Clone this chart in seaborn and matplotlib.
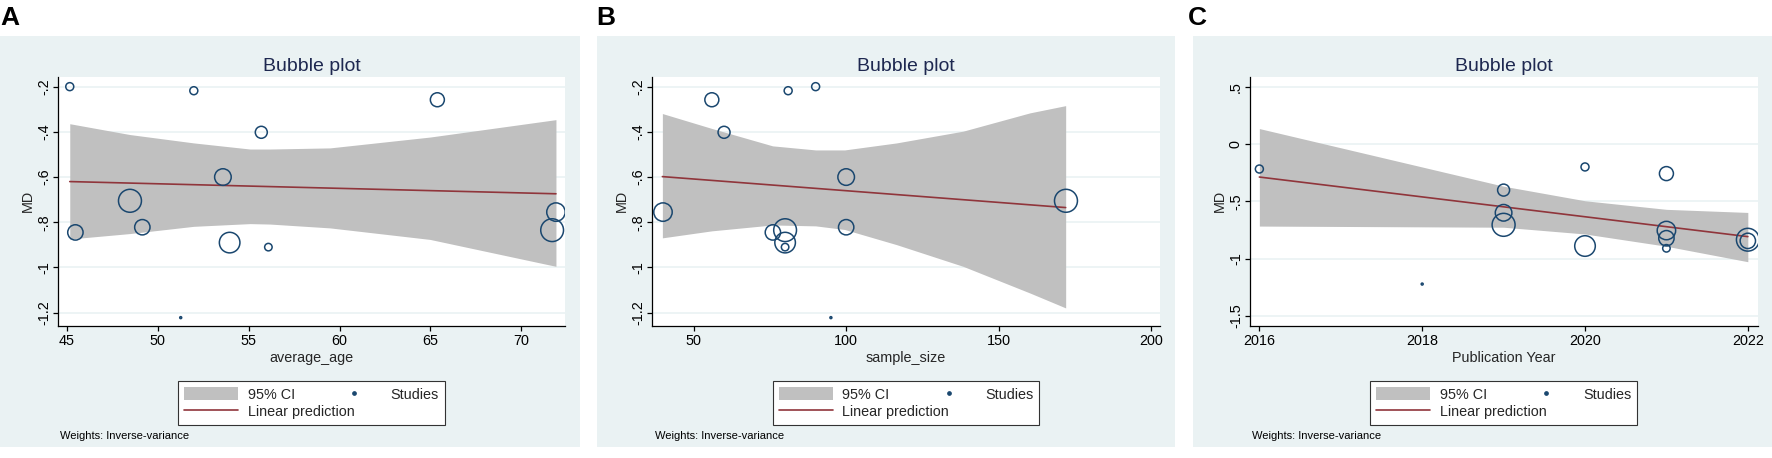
import numpy as np
import pandas as pd
import matplotlib.pyplot as plt
import seaborn as sns
from matplotlib.patches import Rectangle, Patch
from matplotlib.lines import Line2D
from matplotlib.legend_handler import HandlerLine2D

# 1: study level data (13 studies)
md = [-0.200, -0.218, -0.258, -0.402, -0.600, -0.705, -0.755,
      -0.845, -0.835, -0.890, -0.910, -0.822, -1.222]
weight = [16, 16, 49, 36, 69, 132, 85, 59, 130, 106, 14, 59, 1]
average_age = [45.17, 51.99, 65.38, 55.70, 53.59, 48.48, 71.90,
               45.48, 71.69, 53.96, 56.09, 49.16, 51.27]
sample_size = [90, 81, 56, 60, 100, 172, 40, 76, 80, 80, 80, 100, 95]
pub_year = [2020, 2016, 2021, 2019, 2019, 2019, 2021,
            2022, 2022, 2020, 2021, 2021, 2018]

# 2: linear prediction and 95% CI band
age_fit_x = [45.17, 71.90]
age_fit_y = [-0.620, -0.674]
age_ci_x = [45.17, 48.48, 51.99, 55.08, 56.18, 59.48, 64.98, 71.90]
age_ci_hi = [-0.364, -0.412, -0.449, -0.476, -0.476, -0.471, -0.423, -0.346]
age_ci_lo = [-0.874, -0.850, -0.818, -0.806, -0.808, -0.825, -0.876, -0.995]

n_fit_x = [39.8, 171.9]
n_fit_y = [-0.598, -0.735]
n_ci_x = [39.8, 56.0, 75.9, 90.0, 99.5, 116.5, 138.3, 160.2, 171.9]
n_ci_hi = [-0.319, -0.385, -0.462, -0.480, -0.480, -0.449, -0.397, -0.316, -0.284]
n_ci_lo = [-0.869, -0.838, -0.812, -0.816, -0.832, -0.899, -0.995, -1.113, -1.179]

yr_fit_x = [2016, 2022]
yr_fit_y = [-0.288, -0.808]
yr_ci_x = [2016, 2019, 2020, 2021, 2022]
yr_ci_hi = [0.135, -0.368, -0.495, -0.570, -0.597]
yr_ci_lo = [-0.716, -0.726, -0.785, -0.892, -1.027]

# 3: ticks
age_ticks = [45, 50, 55, 60, 65, 70]
n_ticks = [50, 100, 150, 200]
yr_ticks = [2016, 2018, 2020, 2022]
md_ticks_ab = [-0.2, -0.4, -0.6, -0.8, -1.0, -1.2]
md_labels_ab = ['-.2', '-.4', '-.6', '-.8', '-1', '-1.2']
md_ticks_c = [0.5, 0, -0.5, -1.0, -1.5]
md_labels_c = ['.5', '0', '-.5', '-1', '-1.5']

df = pd.DataFrame({"MD": md, "weight": weight, "average_age": average_age,
                   "sample_size": sample_size, "year": pub_year})

# 4: style
W, H = 1772, 458
sns.set_style("ticks")
plt.rcParams['font.family'] = ['Liberation Sans', 'DejaVu Sans']

BG = '#eaf2f3'
NAVY = '#1a476f'
MAROON = '#90353b'
BAND = '#c0c0c0'
FS = 10.4

fig = plt.figure(figsize=(W / 100, H / 100), dpi=100)
fig.patch.set_facecolor('white')


def fx(px):
    return px / W


def fy(py):
    return 1 - py / H


class DotAtRight(HandlerLine2D):
    # Stata puts the "Studies" dot right before its label
    def get_xdata(self, legend, xdescent, ydescent, width, height, fontsize):
        xdata, _ = super().get_xdata(legend, xdescent, ydescent, width, height, fontsize)
        return xdata, np.array([-xdescent + width - 0.1 * fontsize])


panels = [
    dict(letter='A', col='average_age', xlabel='average_age', fit=(age_fit_x, age_fit_y),
         ci=(age_ci_x, age_ci_lo, age_ci_hi), xticks=age_ticks, xlim=(44.54, 72.37),
         yticks=md_ticks_ab, ylabels=md_labels_ab, ylim=(-1.259, -0.156),
         bg=(0, 580), box=(58.3, 564.5), letter_x=0, note_x=60),
    dict(letter='B', col='sample_size', xlabel='sample_size', fit=(n_fit_x, n_fit_y),
         ci=(n_ci_x, n_ci_lo, n_ci_hi), xticks=n_ticks, xlim=(36.4, 202.8),
         yticks=md_ticks_ab, ylabels=md_labels_ab, ylim=(-1.259, -0.156),
         bg=(597, 1175), box=(652, 1160), letter_x=596, note_x=655),
    dict(letter='C', col='year', xlabel='Publication Year', fit=(yr_fit_x, yr_fit_y),
         ci=(yr_ci_x, yr_ci_lo, yr_ci_hi), xticks=yr_ticks, xlim=(2015.885, 2022.12),
         yticks=md_ticks_c, ylabels=md_labels_c, ylim=(-1.588, 0.5876),
         bg=(1193, 1772), box=(1250, 1757.6), letter_x=1188, note_x=1252),
]

TOP, BOTTOM = 76.7, 326
smax = max(weight)

for p in panels:
    x0, x1 = p['bg']
    fig.add_artist(Rectangle((fx(x0), fy(447)), (x1 - x0) / W, (447 - 36) / H,
                             transform=fig.transFigure, facecolor=BG,
                             edgecolor='none', zorder=-1))
    l, r = p['box']
    ax = fig.add_axes([fx(l), fy(BOTTOM), (r - l) / W, (BOTTOM - TOP) / H])
    ax.set_facecolor('white')

    ax.set_axisbelow(True)
    ax.yaxis.grid(True, color=BG, lw=1.2)
    ax.xaxis.grid(False)

    cx, clo, chi = p['ci']
    ax.fill_between(cx, clo, chi, color=BAND, lw=0, zorder=1)
    sns.lineplot(x=p['fit'][0], y=p['fit'][1], ax=ax, color=MAROON, lw=1.2, zorder=2)
    sns.scatterplot(data=df, x=p['col'], y='MD', size='weight', ax=ax,
                    sizes=(0, smax * 2.07), size_norm=(0, smax), legend=False,
                    facecolor='none', edgecolor=NAVY, linewidth=1.1, zorder=3)

    ax.set_xlim(*p['xlim'])
    ax.set_ylim(*p['ylim'])
    ax.set_xticks(p['xticks'])
    ax.set_xticklabels([str(t) for t in p['xticks']])
    ax.set_yticks(p['yticks'])
    ax.set_yticklabels(p['ylabels'], rotation=90, va='center')

    for s in ['top', 'right']:
        ax.spines[s].set_visible(False)
    for s in ['left', 'bottom']:
        ax.spines[s].set_color('black')
        ax.spines[s].set_linewidth(0.9)
    ax.tick_params(axis='both', direction='out', length=3.6, width=0.9,
                   color='black', labelsize=FS, labelcolor='black')
    ax.tick_params(axis='x', pad=2.5)
    ax.tick_params(axis='y', pad=1.5)
    ax.set_xlabel(p['xlabel'], fontsize=FS, labelpad=1.5)
    ax.set_ylabel('MD', fontsize=FS, labelpad=1.5)

    cxm = (l + r) / 2
    fig.text(fx(cxm), fy(70.7), 'Bubble plot', ha='center', va='baseline',
             fontsize=14, color='#1e2850')
    fig.text(fx(p['letter_x']), fy(25), p['letter'], ha='left', va='baseline',
             fontsize=19, fontweight='bold', color='black')
    fig.text(fx(p['note_x']), fy(439), 'Weights: Inverse-variance', ha='left',
             va='baseline', fontsize=8, color='black')

    handles = [Patch(facecolor=BAND, edgecolor='none'),
               Line2D([], [], color=MAROON, lw=1.2),
               Line2D([], [], color=NAVY, marker='o', ls='none', markersize=2.4)]
    leg = ax.legend(handles, ['95% CI', 'Linear prediction', 'Studies'], ncol=2,
                    loc='upper center', bbox_to_anchor=(fx(cxm), fy(374)),
                    bbox_transform=fig.transFigure, fontsize=FS, frameon=True,
                    fancybox=False, framealpha=1, edgecolor='#333333',
                    handlelength=3.74, handleheight=0.97, handletextpad=0.66,
                    borderpad=0.42, labelspacing=0.2, columnspacing=-1.89,
                    handler_map={handles[2]: DotAtRight()})
    leg.get_frame().set_linewidth(0.8)

fig.savefig("out.png", dpi=100, facecolor='white')
